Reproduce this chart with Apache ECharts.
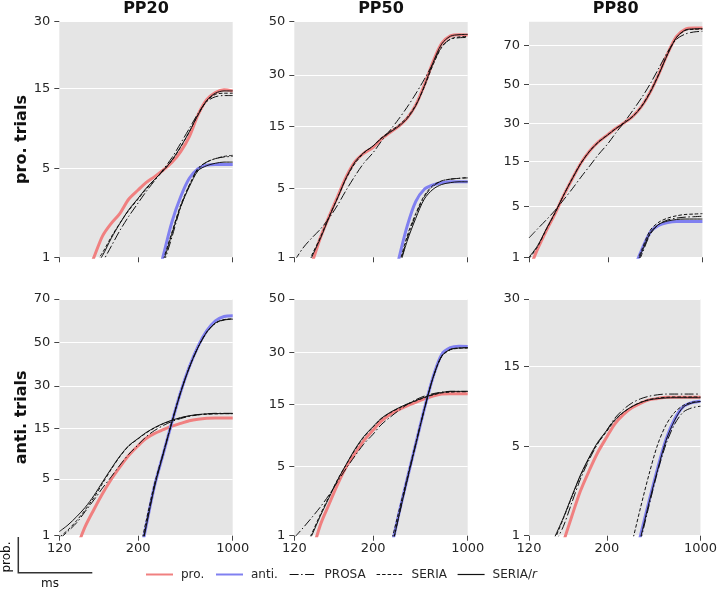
<!DOCTYPE html>
<html>
<head>
<meta charset="utf-8">
<script src="https://cdn.jsdelivr.net/npm/echarts@6/dist/echarts.min.js"></script>
<style>html,body{margin:0;padding:0;background:#fff}#c{width:720px;height:590px}</style>
</head>
<body>
<div id="c"></div>
<script>
// ---- reaction-time bins (ms) at which curves were read ----
const rtMs = [120, 125.5, 131.6, 138.2, 145.6, 153.8, 163.0, 173.4, 185.2, 200.0, 214.3, 232.6, 254.2, 280.4, 312.5, 352.9, 405.4, 476.2, 576.9, 731.7, 1000];

const colTitles = ['PP20', 'PP50', 'PP80'];
const rowTitles = ['pro. trials', 'anti. trials'];
const xTickLabels = [120, 200, 1000];
const yTickLabels = [[1,5,15,30],[1,5,15,30,50],[1,5,15,30,50,70],[1,5,15,30,50,70],[1,5,15,30,50],[1,5,15,30]];
const yTopPercent = [30, 50, 80, 70, 50, 30];
const legendNames = ['pro.', 'anti.', 'PROSA', 'SERIA', 'SERIA/r'];

// ---- cumulative probability (%) : pro. trials ----
const PT20_pro        = [null,null,null,0.64,1.0,1.53,1.94,2.33,2.99,3.5,3.96,4.37,4.86,5.48,6.45,8.02,10.8,13.1,14.3,14.8,14.6];
const PT20_pro_PROSA  = [null,null,null,null,0.6,0.9,1.25,1.7,2.2,2.8,3.4,4.1,4.9,5.9,7.3,9.0,11.0,12.8,13.6,13.8,13.8];
const PT20_pro_SERIA  = [null,null,null,null,0.85,1.1,1.5,1.95,2.45,3.0,3.55,4.15,4.8,5.65,6.9,8.6,10.8,12.9,14.0,14.2,14.2];
const PT20_pro_SERIAr = [null,null,null,null,0.8,1.04,1.46,1.94,2.48,3.04,3.6,4.18,4.82,5.68,6.94,8.6,10.8,13.0,14.2,14.6,14.6];
const PT20_anti        = [null,null,null,null,null,null,null,null,null,null,null,0.5,1.04,2.0,3.12,4.25,4.97,5.25,5.3,5.3,5.3];
const PT20_anti_PROSA  = [null,null,null,null,null,null,null,null,null,null,null,null,0.85,1.5,2.6,3.8,5.0,5.5,5.8,5.95,6.0];
const PT20_anti_SERIA  = [null,null,null,null,null,null,null,null,null,null,null,null,0.95,1.65,2.7,3.8,4.9,5.5,5.8,6.0,6.1];
const PT20_anti_SERIAr = [null,null,null,null,null,null,null,null,null,null,null,null,0.9,1.6,2.63,3.7,4.8,5.2,5.4,5.5,5.5];

const PT50_pro        = [null,null,0.83,1.63,2.71,4.21,6.3,8.35,9.68,10.74,12.27,13.66,15.0,17.0,20.5,26.6,34.6,41.5,44.4,44.9,44.8];
const PT50_pro_PROSA  = [0.9,1.27,1.63,2.02,2.61,3.51,4.83,6.38,8.1,9.8,11.8,14.1,16.7,19.9,23.8,28.5,34.0,40.3,43.1,43.7,43.8];
const PT50_pro_SERIA  = [null,0.6,1.05,1.65,2.7,4.1,6.1,8.1,9.7,11.0,12.5,13.9,15.3,17.2,20.5,26.0,33.5,40.0,43.2,44.0,44.2];
const PT50_pro_SERIAr = [null,0.55,1.0,1.6,2.65,4.1,6.2,8.3,9.8,11.0,12.4,13.7,15.0,16.9,20.3,26.3,34.3,41.3,44.3,44.9,45.0];
const PT50_anti        = [null,null,null,null,null,null,null,null,null,null,null,null,0.91,2.15,3.78,4.9,5.35,5.6,5.7,5.7,5.7];
const PT50_anti_PROSA  = [null,null,null,null,null,null,null,null,null,null,null,null,0.7,1.6,2.8,4.2,5.2,5.8,6.0,6.1,6.15];
const PT50_anti_SERIA  = [null,null,null,null,null,null,null,null,null,null,null,null,0.75,1.7,2.9,4.3,5.3,5.8,6.0,6.1,6.2];
const PT50_anti_SERIAr = [null,null,null,null,null,null,null,null,null,null,null,null,0.7,1.5,2.6,4.0,4.9,5.4,5.6,5.7,5.7];

const PT80_pro        = [0.62,1.34,2.46,4.07,6.75,10.2,14.5,18.5,21.9,24.9,27.6,30.3,33.4,38.4,46.0,55.8,66.1,73.9,77.0,77.5,77.5];
const PT80_pro_PROSA  = [1.94,2.6,3.42,4.49,6.02,8.0,10.6,13.6,17.2,21.2,25.6,30.6,36.4,42.9,50.4,58.8,66.9,72.7,75.0,75.9,76.2];
const PT80_pro_SERIA  = [0.95,1.45,2.55,4.15,6.8,10.3,14.5,18.5,21.9,24.9,27.6,30.3,33.5,38.6,46.2,55.8,66.0,73.5,76.5,77.0,77.1];
const PT80_pro_SERIAr = [1.0,1.5,2.6,4.2,6.8,10.2,14.4,18.4,21.8,24.8,27.5,30.2,33.3,38.3,45.8,55.5,65.8,73.5,76.7,77.2,77.3];
const PT80_anti        = [null,null,null,null,null,null,null,null,null,null,null,null,0.6,1.3,2.35,2.9,3.15,3.25,3.25,3.25,3.25];
const PT80_anti_PROSA  = [null,null,null,null,null,null,null,null,null,null,null,null,0.5,1.1,2.2,3.0,3.4,3.6,3.7,3.75,3.8];
const PT80_anti_SERIA  = [null,null,null,null,null,null,null,null,null,null,null,null,0.6,1.3,2.5,3.2,3.6,3.85,4.0,4.05,4.1];
const PT80_anti_SERIAr = [null,null,null,null,null,null,null,null,null,null,null,null,0.55,1.2,2.3,3.0,3.3,3.45,3.5,3.5,3.5];

// ---- cumulative probability (%) : anti. trials ----
const AT20_pro        = [null,null,0.66,1.34,2.22,3.45,4.99,6.72,8.68,10.7,12.4,13.7,14.7,15.7,16.5,17.3,17.8,18.1,18.2,18.2,18.2];
const AT20_pro_PROSA  = [0.9,1.15,1.5,2.1,2.9,4.0,5.3,7.0,8.9,10.9,12.8,14.5,15.9,17.1,18.0,18.7,19.2,19.5,19.7,19.7,19.7];
const AT20_pro_SERIA  = [0.95,1.2,1.6,2.2,3.1,4.5,6.35,8.5,10.6,12.3,13.8,15.2,16.4,17.4,18.2,18.8,19.2,19.4,19.5,19.6,19.6];
const AT20_pro_SERIAr = [1.14,1.4,1.8,2.36,3.27,4.67,6.46,8.6,10.7,12.4,13.9,15.3,16.5,17.5,18.3,18.9,19.3,19.5,19.6,19.6,19.6];
const AT20_anti        = [null,null,null,null,null,null,null,null,null,0.35,1.34,4.29,9.06,16.97,27.6,38.5,48.2,55.6,60.3,62.3,62.6];
const AT20_anti_PROSA  = [null,null,null,null,null,null,null,null,null,0.35,1.35,4.3,9.1,17.0,27.5,38.2,47.6,54.8,59.1,60.7,61.0];
const AT20_anti_SERIA  = [null,null,null,null,null,null,null,null,null,0.45,1.55,4.5,9.3,17.2,27.6,38.3,47.7,55.0,59.3,60.9,61.2];
const AT20_anti_SERIAr = [null,null,null,null,null,null,null,null,null,0.35,1.3,4.2,9.0,16.9,27.4,38.2,47.7,55.0,59.3,60.8,61.1];

const AT50_pro        = [null,null,0.6,1.31,2.17,3.42,4.95,6.44,8.17,9.88,11.45,12.78,13.8,14.7,15.5,16.3,17.0,17.5,17.6,17.6,17.6];
const AT50_pro_PROSA  = [0.95,1.22,1.58,2.04,2.7,3.63,4.81,6.15,7.68,9.2,10.8,12.2,13.6,14.97,16.1,17.0,17.6,18.0,18.2,18.2,18.2];
const AT50_pro_SERIA  = [null,0.65,1.05,1.7,2.6,3.8,5.2,6.9,8.7,10.4,11.9,13.1,14.1,15.0,15.8,16.6,17.3,17.8,18.0,18.1,18.1];
const AT50_pro_SERIAr = [null,0.6,1.0,1.64,2.53,3.76,5.22,7.0,8.8,10.5,12.0,13.2,14.2,15.1,15.9,16.7,17.4,17.9,18.2,18.2,18.2];
const AT50_anti        = [null,null,null,null,null,null,null,null,null,null,null,0.59,1.64,3.79,7.68,13.99,22.1,29.3,31.6,32.1,32.0];
const AT50_anti_PROSA  = [null,null,null,null,null,null,null,null,null,null,null,0.55,1.55,3.7,7.6,13.9,21.9,28.7,31.0,31.5,31.6];
const AT50_anti_SERIA  = [null,null,null,null,null,null,null,null,null,null,null,0.7,1.75,3.9,7.8,14.0,21.9,28.6,30.9,31.4,31.5];
const AT50_anti_SERIAr = [null,null,null,null,null,null,null,null,null,null,null,0.55,1.55,3.7,7.6,13.9,22.0,28.8,31.0,31.5,31.6];

const AT80_pro        = [null,null,null,null,0.87,1.47,2.35,3.33,4.51,5.78,6.99,8.0,8.8,9.37,9.81,9.99,10.16,10.16,10.16,10.16,10.16];
const AT80_pro_PROSA  = [null,null,null,0.85,1.2,1.9,2.9,4.0,5.2,6.4,7.6,8.6,9.4,9.95,10.3,10.5,10.6,10.6,10.6,10.6,10.6];
const AT80_pro_SERIA  = [null,null,null,0.92,1.4,2.1,3.05,4.1,5.2,6.3,7.35,8.25,8.95,9.5,9.85,10.05,10.15,10.2,10.2,10.2,10.2];
const AT80_pro_SERIAr = [null,null,null,0.97,1.42,2.14,3.11,4.17,5.3,6.39,7.42,8.28,8.95,9.45,9.81,9.98,10.07,10.1,10.1,10.1,10.1];
const AT80_anti        = [null,null,null,null,null,null,null,null,null,null,null,null,0.48,1.0,1.95,3.49,5.58,7.52,8.95,9.45,9.63];
const AT80_anti_PROSA  = [null,null,null,null,null,null,null,null,null,null,null,null,0.45,0.9,1.8,3.3,5.2,7.0,8.3,8.8,9.0];
const AT80_anti_SERIA  = [null,null,null,null,null,null,null,null,null,null,null,null,0.85,1.72,3.15,5.11,6.93,8.28,9.1,9.5,9.6];
const AT80_anti_SERIAr = [null,null,null,null,null,null,null,null,null,null,null,null,0.45,0.95,1.9,3.4,5.5,7.4,8.9,9.4,9.6];

// ---- panel -> curves ----
const panelCurves = [
  {pro:[PT20_pro,PT20_pro_PROSA,PT20_pro_SERIA,PT20_pro_SERIAr], anti:[PT20_anti,PT20_anti_PROSA,PT20_anti_SERIA,PT20_anti_SERIAr]},
  {pro:[PT50_pro,PT50_pro_PROSA,PT50_pro_SERIA,PT50_pro_SERIAr], anti:[PT50_anti,PT50_anti_PROSA,PT50_anti_SERIA,PT50_anti_SERIAr]},
  {pro:[PT80_pro,PT80_pro_PROSA,PT80_pro_SERIA,PT80_pro_SERIAr], anti:[PT80_anti,PT80_anti_PROSA,PT80_anti_SERIA,PT80_anti_SERIAr]},
  {pro:[AT20_pro,AT20_pro_PROSA,AT20_pro_SERIA,AT20_pro_SERIAr], anti:[AT20_anti,AT20_anti_PROSA,AT20_anti_SERIA,AT20_anti_SERIAr]},
  {pro:[AT50_pro,AT50_pro_PROSA,AT50_pro_SERIA,AT50_pro_SERIAr], anti:[AT50_anti,AT50_anti_PROSA,AT50_anti_SERIA,AT50_anti_SERIAr]},
  {pro:[AT80_pro,AT80_pro_PROSA,AT80_pro_SERIA,AT80_pro_SERIAr], anti:[AT80_anti,AT80_anti_PROSA,AT80_anti_SERIA,AT80_anti_SERIAr]}
];

// ---- transforms (reciprobit) ----
function probit(p){
  const a=[-3.969683028665376e+01,2.209460984245205e+02,-2.759285104469687e+02,1.383577518672690e+02,-3.066479806614716e+01,2.506628277459239e+00];
  const b=[-5.447609879822406e+01,1.615858368580409e+02,-1.556989798598866e+02,6.680131188771972e+01,-1.328068155288572e+01];
  const c=[-7.784894002430293e-03,-3.223964580411365e-01,-2.400758277161838e+00,-2.549732539343734e+00,4.374664141464968e+00,2.938163982698783e+00];
  const d=[7.784695709041462e-03,3.224671290700398e-01,2.445134137142996e+00,3.754408361355257e+00];
  const pl=0.02425, ph=1-pl; let q,r;
  if(p<pl){q=Math.sqrt(-2*Math.log(p));return (((((c[0]*q+c[1])*q+c[2])*q+c[3])*q+c[4])*q+c[5])/((((d[0]*q+d[1])*q+d[2])*q+d[3])*q+1);}
  if(p<=ph){q=p-0.5;r=q*q;return (((((a[0]*r+a[1])*r+a[2])*r+a[3])*r+a[4])*r+a[5])*q/(((((b[0]*r+b[1])*r+b[2])*r+b[3])*r+b[4])*r+1);}
  q=Math.sqrt(-2*Math.log(1-p));return -(((((c[0]*q+c[1])*q+c[2])*q+c[3])*q+c[4])*q+c[5])/((((d[0]*q+d[1])*q+d[2])*q+d[3])*q+1);
}
const rtX = t => -1000 / t;
function toXY(vals){
  const out=[];
  vals.forEach((v,k)=>{ if(v!=null) out.push([rtX(rtMs[k]), probit(v/100)]); });
  return out;
}

// ---- layout ----
const colLeft = [59.3, 294.3, 529];
const rowTop = [21.7, 299];
const panelW = 173.4, panelH = [235.6, 236.7];
const FONT = 'DejaVu Sans';
const TXT = '#262626';

const grids=[], xAxes=[], yAxes=[], series=[];
for(let i=0;i<6;i++){
  const r=Math.floor(i/3), c=i%3;
  grids.push({left:colLeft[c], top:rowTop[r], width:panelW, height:panelH[r], show:true, backgroundColor:'#e5e5e5', borderWidth:0, containLabel:false});
  const xVals = xTickLabels.map(rtX);
  xAxes.push({type:'value', gridIndex:i, position:'bottom', min:rtX(120), max:rtX(1000),
    axisLine:{show:false, onZero:false},
    axisTick:{show:true, customValues:xVals, length:5, lineStyle:{color:'#444', width:1}},
    axisLabel:{show:r===1, customValues:xVals, showMinLabel:true, showMaxLabel:true, margin:6,
      formatter:v=>String(Math.round(-1000/v)), fontSize:13, color:TXT, fontFamily:FONT},
    splitLine:{show:false}});
  const ticks = yTickLabels[i];
  const yVals = ticks.map(t=>probit(t/100));
  yAxes.push({type:'value', gridIndex:i, position:'left', min:probit(0.01), max:probit(yTopPercent[i]/100),
    axisLine:{show:false, onZero:false},
    axisTick:{show:true, customValues:yVals, length:5, lineStyle:{color:'#444', width:1}},
    axisLabel:{show:true, customValues:yVals, showMinLabel:true, showMaxLabel:true, margin:9,
      formatter:v=>{let best=0,bd=1e9; yVals.forEach((y,j)=>{const dd=Math.abs(y-v); if(dd<bd){bd=dd;best=j;}}); return String(ticks[best]);},
      fontSize:13, color:TXT, fontFamily:FONT},
    splitLine:{show:true, lineStyle:{color:'#ffffff', width:1}}});
  [['pro','pro.','#f08080'],['anti','anti.','#8080f0']].forEach(([key,name,col])=>{
    const arrs = panelCurves[i][key];
    series.push({type:'line', name:name, xAxisIndex:i, yAxisIndex:i, data:toXY(arrs[0]), symbol:'none', showSymbol:false,
      smooth:0.3, clip:true, lineStyle:{color:col, width:3}, itemStyle:{color:col}, z:2, silent:true});
    const models=[['PROSA',[9,2.5,1.5,2.5]],['SERIA',[3.5,2]],['SERIA/r','solid']];
    models.forEach(([mn,lt],m)=>{
      series.push({type:'line', name:mn, xAxisIndex:i, yAxisIndex:i, data:toXY(arrs[m+1]), symbol:'none', showSymbol:false,
        smooth:0.3, clip:true, lineStyle:{color:'#111', width:1, type:lt}, itemStyle:{color:'#111'}, z:3, silent:true});
    });
  });
}

const legendLeft = [145, 215, 289, 376, 457];
const legends = legendNames.map((n,i)=>({
  data:[n], left:legendLeft[i], top:568.5, padding:0, itemWidth:27, itemHeight:14, selectedMode:false,
  itemStyle:{opacity:0, borderWidth:0},
  lineStyle:{width: i<2 ? 2 : 1.2},
  textStyle:{fontSize:12, color:TXT, fontFamily:FONT, padding:[0,0,0,3],
    rich:{it:{fontSize:12, color:TXT, fontFamily:FONT, fontStyle:'italic'}}},
  formatter: nm => nm==='SERIA/r' ? 'SERIA/{it|r}' : nm
}));

const txt = (x,y,text,size,weight,rot)=>({type:'text', x:x, y:y, rotation:rot||0, silent:true,
  style:{text:text, fontSize:size, fontWeight:weight||'normal', fontFamily:FONT, fill:'#111', align:'center', verticalAlign:'middle'}});

const graphics = [
  txt(colLeft[0]+panelW/2, 9, colTitles[0], 16, 'bold'),
  txt(colLeft[1]+panelW/2, 9, colTitles[1], 16, 'bold'),
  txt(colLeft[2]+panelW/2, 9, colTitles[2], 16, 'bold'),
  txt(21.7, rowTop[0]+panelH[0]/2, rowTitles[0], 16, 'bold', Math.PI/2),
  txt(21.7, rowTop[1]+panelH[1]/2, rowTitles[1], 16, 'bold', Math.PI/2),
  {type:'polyline', silent:true, shape:{points:[[18.3,537],[18.3,572.7],[92.3,572.7]]}, style:{stroke:'#333', lineWidth:1.5, fill:null}},
  txt(7, 557, 'prob.', 12, 'normal', Math.PI/2),
  txt(50, 584, 'ms', 12, 'normal')
];

const chart = echarts.init(document.getElementById('c'), null, {renderer:'canvas'});
chart.setOption({
  animation:false,
  backgroundColor:'#ffffff',
  grid:grids, xAxis:xAxes, yAxis:yAxes, series:series,
  legend:legends,
  graphic:graphics,
  tooltip:{show:false}
});
</script>
</body>
</html>
